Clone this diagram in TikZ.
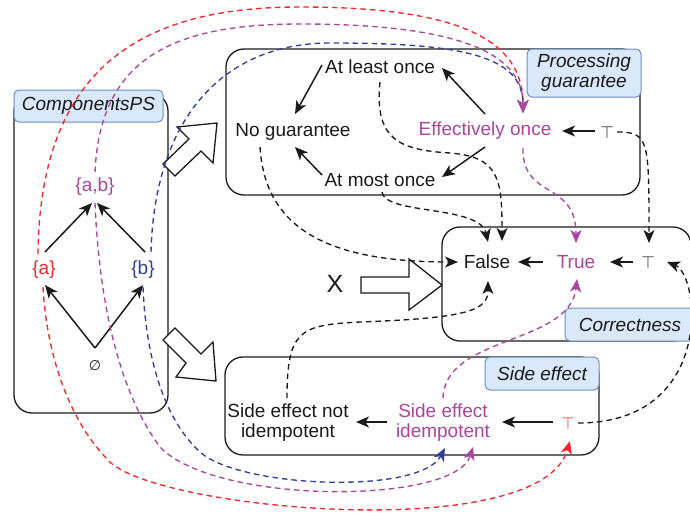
\documentclass[tikz,border=0pt]{standalone}
\usepackage{fontspec}
\setmainfont{Liberation Sans}
\newfontfamily\symfont{DejaVu Sans}
\usetikzlibrary{arrows.meta,calc}

\definecolor{cred}{HTML}{F0282D}
\definecolor{cpurple}{HTML}{A8459E}
\definecolor{cblue}{HTML}{2F3F9A}
\definecolor{lblfill}{HTML}{DAE8FC}
\definecolor{lbldraw}{HTML}{6C8EBF}
\definecolor{ink}{HTML}{1A1A1A}

\tikzset{
  txt/.style={font=\fontsize{19}{20}\selectfont, inner sep=1pt, align=center, text=ink},
  topsym/.style={font=\fontsize{16}{16}\selectfont, inner sep=1pt, text=ink},
  group/.style={draw=ink, line width=1.3pt, rounded corners=18pt, inner sep=0pt},
  tag/.style={draw=lbldraw, fill=lblfill, line width=1pt, rounded corners=5pt, inner sep=0pt,
              font=\fontsize{19}{21}\selectfont\itshape, align=center, text=ink},
  link/.style={draw=ink, line width=1.5pt, -{Stealth[length=13pt,width=11pt,inset=3.5pt]}},
  dlink/.style={line width=1.35pt, dash pattern=on 5.5pt off 4pt,
                -{Stealth[length=13pt,width=11pt,inset=3.5pt]}},
  hollow/.style={draw=ink, fill=white, line width=1.3pt, line join=miter},
}

\begin{document}
\begin{tikzpicture}[x=1pt, y=-1pt]
\path[use as bounding box, clip] (0,0) rectangle (690,515);

% ---- group frames ----
\node[group, minimum width=154pt, minimum height=320pt] (comp) at (91,253) {};
\node[group, minimum width=414pt, minimum height=146pt] (pg) at (433,122) {};
\node[group, minimum width=249pt, minimum height=114pt] (corr) at (566.5,284) {};
\node[group, minimum width=374pt, minimum height=98pt] (se) at (412,406) {};

% ---- group tags ----
\node[tag, minimum width=149pt, minimum height=32pt] (comptag) at (88.5,106) {ComponentsPS};
\node[tag, minimum width=114pt, minimum height=48pt] (pgtag) at (584,73) {Processing\\[-1pt]guarantee};
\node[tag, minimum width=130pt, minimum height=33pt] (corrtag) at (630,324.5) {Correctness};
\node[tag, minimum width=114pt, minimum height=33pt] (setag) at (542,373.5) {Side effect};

% ---- hollow block arrows ----
\draw[hollow] (163,164) -- (189,139) -- (177,127) -- (217,123) -- (213,163) -- (201,151) -- (175,176) -- cycle;
\draw[hollow] (175,328) -- (201,354) -- (213,342) -- (216,381) -- (176,377) -- (186,363) -- (163,340) -- cycle;
\draw[hollow] (361,277) -- (409,277) -- (409,259) -- (442,285) -- (409,310) -- (409,293) -- (361,293) -- cycle;
\node[font=\fontsize{25}{25}\selectfont, text=ink, inner sep=0pt] (xx) at (335,284) {X};

% ---- components lattice ----
\node[txt, text=cpurple] (ab) at (95,187) {\{a,b\}};
\node[txt, text=cred] (a) at (44,270) {\{a\}};
\node[txt, text=cblue] (b) at (143,270) {\{b\}};
\node[font=\symfont\fontsize{14}{14}\selectfont, text=ink, inner sep=1pt] (e) at (95,366) {∅};

% ---- processing guarantee ----
\node[txt] (alo) at (380,67) {At least once};
\node[txt] (ng) at (293,132) {No guarantee};
\node[txt, text=cpurple] (eo) at (485,131) {Effectively once};
\node[txt] (amo) at (380,180) {At most once};
\node[topsym] (pt) at (607,132) {$\top$};

% ---- correctness ----
\node[txt] (fa) at (487,262) {False};
\node[txt, text=cpurple] (tr) at (576,262) {True};
\node[topsym] (ct) at (648,262) {$\top$};

% ---- side effect ----
\node[txt] (seni) at (288,423) {Side effect not\\idempotent};
\node[txt, text=cpurple] (sei) at (443,423) {Side effect\\idempotent};
\node[topsym, text=cred] (st) at (568,423) {$\top$};

% ---- solid order arrows ----
\draw[link] ($(e)+(0,-18)$) -- ($(a)+(1,15)$);
\draw[link] ($(e)+(0,-18)$) -- ($(b)+(0,15)$);
\draw[link] ($(a)+(1,-18)$) -- ($(ab)+(-3,16)$);
\draw[link] ($(b)+(2,-18)$) -- ($(ab)+(2,16)$);

\draw[link] ($(eo)+(0,-17)$) -- ($(alo)+(62,1)$);
\draw[link] ($(eo)+(0,16)$) -- ($(amo)+(62,-3)$);
\draw[link] ($(alo)+(-58,-2)$) -- ($(ng)+(2,-18)$);
\draw[link] ($(amo)+(-58,-5)$) -- ($(ng)+(2,15)$);
\draw[link] ($(pt)+(-12,-1)$) -- ($(eo)+(77,0)$);

\draw[link] ($(tr)+(-33,0)$) -- ($(fa)+(31,0)$);
\draw[link] ($(ct)+(-15,0)$) -- ($(tr)+(34,0)$);

\draw[link] ($(st)+(-15,-1)$) -- ($(sei)+(59,-1)$);
\draw[link] ($(sei)+(-56,-1)$) -- ($(seni)+(68,-1)$);

% ---- black dashed mappings ----
\draw[dlink, draw=ink] ($(alo)+(0,15)$) .. controls (374,140) and (400,150) .. (450,153)
      .. controls (500,157) and (502,180) .. ($(fa)+(15,-21)$);
\draw[dlink, draw=ink] ($(amo)+(2,12)$) .. controls (385,215) and (480,205) .. ($(fa)+(1,-20)$);
\draw[dlink, draw=ink] ($(ng)+(-33,15)$) .. controls (265,230) and (330,262) .. ($(fa)+(-29,0)$);
\draw[dlink, draw=ink] ($(seni)+(-1,-25)$) .. controls (287,330) and (300,325) .. (360,322)
      .. controls (470,318) and (488,310) .. ($(fa)+(1,19)$);
\draw[dlink, draw=ink] ($(pt)+(10,0)$) .. controls (649,132) and (649,140) .. ($(ct)+(1,-19)$);
\draw[dlink, draw=ink] ($(st)+(10,0)$) .. controls (715,423) and (700,275) .. ($(ct)+(19,0)$);

% ---- purple dashed mappings ----
\draw[dlink, draw=cpurple] ($(eo)+(38,17)$) .. controls (522,200) and (576,180) .. ($(tr)+(0,-19)$);
\draw[dlink, draw=cpurple] ($(sei)+(0,-25)$) .. controls (445,335) and (570,345) .. ($(tr)+(1,17)$);

% ---- component mappings, upper arcs ----
\draw[dlink, draw=cred] ($(a)+(-6,-16)$) .. controls (40,60) and (150,7) .. (300,7)
      .. controls (460,7) and (523,40) .. ($(eo)+(38,-18)$);
\draw[dlink, draw=cblue] ($(b)+(8,-18)$) .. controls (155,110) and (230,43) .. (330,43)
      .. controls (460,43) and (523,55) .. ($(eo)+(38,-18)$);
\draw[dlink, draw=cpurple] ($(ab)+(0,-15)$) .. controls (100,60) and (170,24) .. (300,24)
      .. controls (450,24) and (523,50) .. ($(eo)+(38,-18)$);

% ---- component mappings, lower arcs ----
\draw[dlink, draw=cred] ($(a)+(-1,17)$) .. controls (47,360) and (72,425) .. (110,462)
      .. controls (160,510) and (540,545) .. ($(st)+(2,18)$);
\draw[dlink, draw=cpurple] ($(ab)+(0,16)$) .. controls (100,320) and (125,400) .. (160,447)
      .. controls (215,505) and (455,505) .. ($(sei)+(30,24)$);
\draw[dlink, draw=cblue] ($(b)+(0,17)$) .. controls (146,360) and (165,420) .. (200,452)
      .. controls (240,488) and (420,495) .. ($(sei)+(2,25)$);
\end{tikzpicture}
\end{document}
